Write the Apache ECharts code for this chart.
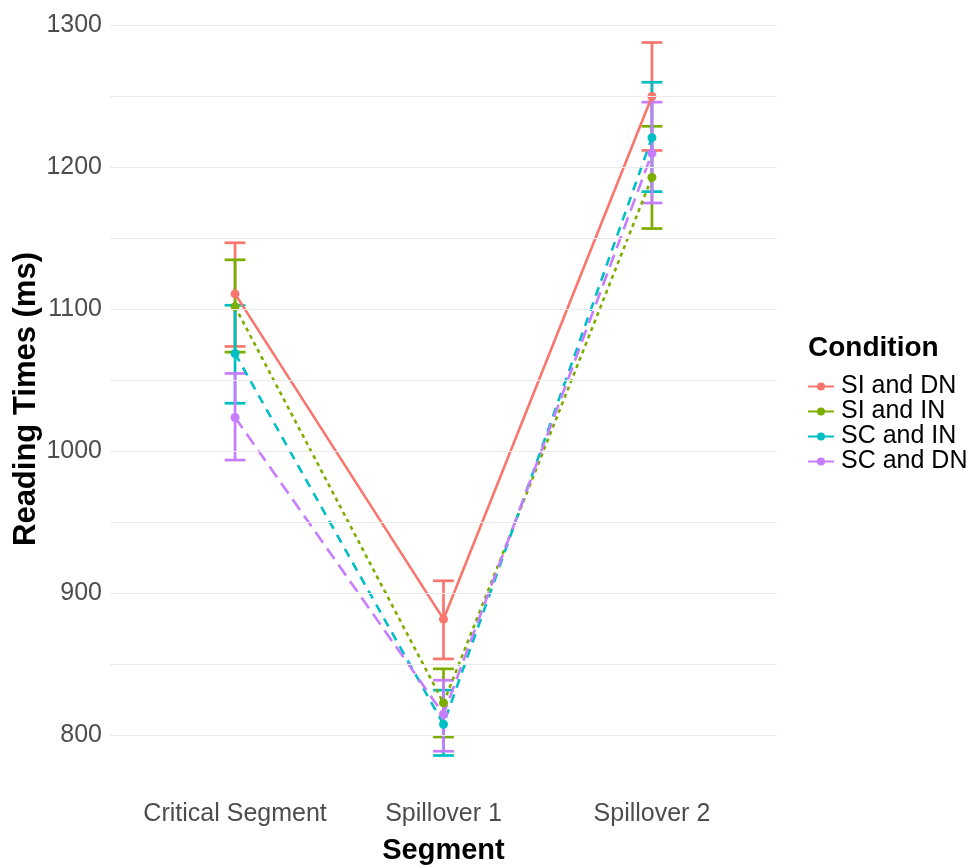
<!DOCTYPE html>
<html>
<head>
<meta charset="utf-8">
<script src="https://cdn.jsdelivr.net/npm/echarts@6/dist/echarts.min.js"></script>
<style>html,body{margin:0;padding:0;background:#fff}#c{width:976px;height:865px}</style>
</head>
<body>
<div id="c"></div>
<script>
const categories = ['Critical Segment', 'Spillover 1', 'Spillover 2'];
const conditions = ['SI and DN', 'SI and IN', 'SC and IN', 'SC and DN'];
const yTicks = [800, 900, 1000, 1100, 1200, 1300];
const gridValues = [800, 850, 900, 950, 1000, 1050, 1100, 1150, 1200, 1250, 1300];

const siDnMean = [1111, 882, 1250];
const siDnLow  = [1074, 854, 1212];
const siDnHigh = [1147, 909, 1288];

const siInMean = [1102, 823, 1193];
const siInLow  = [1070, 799, 1157];
const siInHigh = [1135, 847, 1229];

const scInMean = [1069, 808, 1221];
const scInLow  = [1034, 786, 1183];
const scInHigh = [1103, 832, 1260];

const scDnMean = [1024, 815, 1210];
const scDnLow  = [994, 789, 1175];
const scDnHigh = [1055, 839, 1246];

const colors = ['#F8766D', '#7CAE00', '#00BFC4', '#C77CFF'];
const dashes = ['solid', [4, 4], [9, 7], [13, 7]];
const means = [siDnMean, siInMean, scInMean, scDnMean];
const lows = [siDnLow, siInLow, scInLow, scDnLow];
const highs = [siDnHigh, siInHigh, scInHigh, scDnHigh];

const FONT = 'Liberation Sans, Arial, sans-serif';

function errRender(color) {
  return function (params, api) {
    const x = api.value(0), lo = api.value(1), hi = api.value(2);
    const p1 = api.coord([x, lo]);
    const p2 = api.coord([x, hi]);
    const half = api.coord([x + 0.05, lo])[0] - p1[0];
    const style = { stroke: color, lineWidth: 2.7 };
    return {
      type: 'group',
      children: [
        { type: 'line', shape: { x1: p1[0], y1: p1[1], x2: p2[0], y2: p2[1] }, style },
        { type: 'line', shape: { x1: p1[0] - half, y1: p1[1], x2: p1[0] + half, y2: p1[1] }, style },
        { type: 'line', shape: { x1: p2[0] - half, y1: p2[1], x2: p2[0] + half, y2: p2[1] }, style }
      ]
    };
  };
}

const series = [];
series.push({
  type: 'line', name: '_grid', data: [], silent: true, z: 0,
  markLine: {
    silent: true, symbol: ['none', 'none'], label: { show: false },
    lineStyle: { color: '#ebebeb', width: 1.2, type: 'solid' },
    emphasis: { disabled: true },
    animation: false,
    data: gridValues.map(v => ({ yAxis: v }))
  }
});
conditions.forEach((name, k) => {
  series.push({
    type: 'custom', name: name + ' err', z: 2,
    renderItem: errRender(colors[k]),
    data: categories.map((c, i) => [i + 1, lows[k][i], highs[k][i]])
  });
});
conditions.forEach((name, k) => {
  series.push({
    type: 'line', name: name, z: 3,
    data: categories.map((c, i) => [i + 1, means[k][i]]),
    color: colors[k],
    lineStyle: { color: colors[k], width: 2.6, type: dashes[k] },
    itemStyle: { color: colors[k] },
    symbol: 'circle', symbolSize: 9, showSymbol: true
  });
});

const chart = echarts.init(document.getElementById('c'), null, { renderer: 'canvas' });
chart.setOption({
  animation: false,
  backgroundColor: '#fff',
  textStyle: { fontFamily: FONT },
  title: {
    text: 'Condition', left: 803, top: 329,
    textStyle: { fontFamily: FONT, fontSize: 28, fontWeight: 'bold', color: '#000' }
  },
  legend: {
    orient: 'vertical', left: 802, top: 369,
    data: conditions,
    itemWidth: 26, itemHeight: 10, itemGap: 0,
    lineStyle: { type: 'solid' },
    textStyle: { fontFamily: FONT, fontSize: 25, color: '#000', padding: [0, 0, 0, 2] }
  },
  grid: { left: 110, right: 199, top: 7, bottom: 74, containLabel: false, outerBoundsMode: 'none' },
  xAxis: {
    type: 'value', min: 0.4, max: 3.6,
    name: 'Segment', nameLocation: 'middle', nameGap: 45,
    nameTextStyle: { fontFamily: FONT, fontSize: 29, fontWeight: 'bold', color: '#000' },
    axisLine: { show: false }, axisTick: { show: false }, splitLine: { show: false },
    axisLabel: {
      customValues: [1, 2, 3],
      formatter: v => categories[Math.round(v) - 1] || '',
      fontFamily: FONT, fontSize: 25, color: '#4d4d4d', margin: 11
    }
  },
  yAxis: {
    type: 'value', min: 761, max: 1313,
    name: 'Reading Times (ms)', nameLocation: 'middle', nameGap: 68, nameRotate: 90,
    nameMoveOverlap: false,
    nameTextStyle: { fontFamily: FONT, fontSize: 31, fontWeight: 'bold', color: '#000' },
    axisLine: { show: false }, axisTick: { show: false }, splitLine: { show: false },
    axisLabel: {
      customValues: yTicks,
      formatter: v => String(v),
      fontFamily: FONT, fontSize: 25, color: '#4d4d4d', margin: 8
    }
  },
  series: series
});
</script>
</body>
</html>
